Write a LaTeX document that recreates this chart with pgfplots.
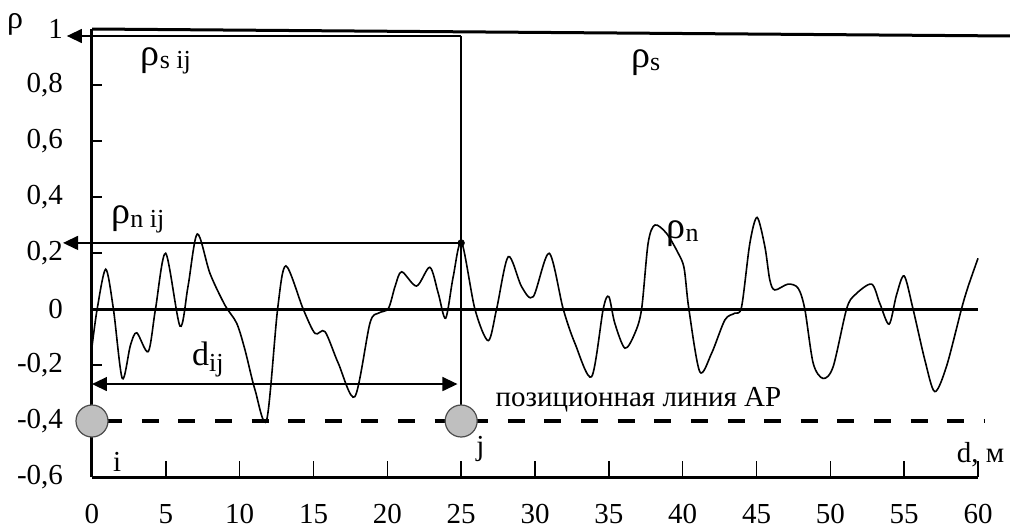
\documentclass[border=0pt]{standalone}
\usepackage{fontspec}
\setmainfont{Liberation Serif}
\usepackage{pgfplots}
\pgfplotsset{compat=1.18}
\usetikzlibrary{arrows.meta}

\newcommand{\rr}{{\fontsize{19}{20}\selectfont ρ}}
\newcommand{\sub}[1]{\raisebox{-0.35ex}{\fontsize{13}{14}\selectfont #1}}

\pgfplotstableread{
d v
0 -0.135
0.35 0.0
0.93 0.142
1.45 0.0
2.05 -0.248
2.6 -0.13
3.03 -0.085
3.81 -0.152
4.3 0.0
4.99 0.199
5.96 -0.061
6.5 0.08
7.13 0.268
7.99 0.127
9.0 0.014
9.8 -0.051
10.36 -0.146
11.04 -0.289
11.83 -0.396
12.57 0.0
13.13 0.154
14.3 0.0
15.1 -0.087
15.78 -0.081
16.68 -0.194
17.8 -0.313
18.82 -0.051
19.39 -0.015
20.07 0.002
20.52 0.08
20.97 0.133
21.98 0.082
22.88 0.149
23.45 0.056
23.95 -0.033
24.46 0.115
25.03 0.237
25.93 0.0
26.83 -0.113
27.4 0.0
28.19 0.187
29.09 0.08
29.88 0.044
30.96 0.199
31.91 0.0
32.7 -0.122
33.83 -0.242
34.62 0.0
35.0 0.044
35.4 -0.05
36.09 -0.14
36.76 -0.087
37.22 0.0
37.66 0.235
38.12 0.3
38.91 0.27
39.7 0.199
40.1 0.145
40.42 0.0
41.16 -0.224
41.96 -0.158
42.86 -0.039
43.53 -0.015
43.99 0.008
44.55 0.235
45.04 0.327
45.57 0.222
45.9 0.104
46.24 0.068
47.14 0.089
47.82 0.074
48.27 0.0
48.84 -0.194
49.51 -0.248
50.19 -0.206
51.1 0.0
51.66 0.05
52.79 0.089
53.35 0.02
53.98 -0.054
54.48 0.05
55.0 0.118
55.6 0.0
56.4 -0.182
57.07 -0.295
57.86 -0.206
58.88 0.0
59.33 0.08
60.0 0.181
}\rhon

\begin{document}
\begin{tikzpicture}
\begin{axis}[name=ax, scale only axis, width=443pt, height=224pt,
  xmin=0, xmax=60, ymin=-0.6, ymax=1,
  axis x line=bottom, axis y line=left,
  axis line style={draw=none},
  xtick={0,5,...,60},
  ytick={-0.6,-0.4,-0.2,0,0.2,0.4,0.6,0.8,1},
  tick align=inside, major tick length=8pt,
  ytick style={draw=none},
  xtick style={line width=0.8pt, black},
  tick label style={font=\fontsize{14.5}{17}\selectfont},
  /pgf/number format/assume math mode=true,
  /pgf/number format/use comma,
  xticklabel style={yshift=-10pt},
  yticklabel style={xshift=-11pt},
  clip=false,
  every axis plot/.append style={black},
]
% axes
\addplot[line width=1.5pt] coordinates {(0,-0.6) (60,-0.6)};
\addplot[line width=1.5pt] coordinates {(0,-0.6) (0,1)};
\pgfplotsinvokeforeach{-0.4,-0.2,0.2,0.4,0.6,0.8}{
  \draw[line width=0.8pt] (axis cs:0,#1) -- (axis cs:0.68,#1);
}
% zero line
\addplot[line width=1.5pt] coordinates {(0,0) (60,0)};
% rho_s
\addplot[line width=1.5pt] coordinates {(0,1) (62.2,0.975)};
% rho_n
\addplot[line width=0.8pt, smooth, tension=0.5] table[x=d, y=v] {\rhon};
% dashed positional line
\addplot[line width=2pt, dash pattern=on 8.5pt off 9.8pt] coordinates {(0.9,-0.4) (60.4,-0.4)};
% vertical line at j
\addplot[line width=0.7pt] coordinates {(25,0.975) (25,-0.4)};
% arrows
\addplot[line width=0.7pt, -{Triangle[length=7.5pt,width=7pt]}] coordinates {(25,0.975) (-1.7,0.975)};
\addplot[line width=0.7pt, -{Triangle[length=7.5pt,width=7pt]}] coordinates {(25,0.236) (-1.96,0.236)};
\addplot[line width=0.7pt, {Triangle[length=7.5pt,width=7pt]}-{Triangle[length=7.5pt,width=7pt]}] coordinates {(0,-0.268) (24.75,-0.268)};
\addplot[only marks, mark=*, mark size=1.6pt] coordinates {(25,0.236)};
% circles
\addplot[only marks, mark=*, mark size=8pt, mark options={fill=black!25, draw=black!70, line width=0.6pt}] coordinates {(0,-0.4) (25,-0.4)};
% labels
\node[font=\fontsize{16}{17}\selectfont] at (axis cs:-5.2,1.015) {ρ};
\node at (axis cs:5.0,0.885) {\rr\sub{s ij}};
\node at (axis cs:37.5,0.88) {\rr\sub{s}};
\node at (axis cs:3.1,0.32) {\rr\sub{n ij}};
\node at (axis cs:40.0,0.27) {\rr\sub{n}};
\node[font=\fontsize{17}{18}\selectfont] at (axis cs:7.85,-0.18) {d\sub{ij}};
\node[font=\fontsize{14.5}{17}\selectfont, anchor=west, inner sep=0pt] at (axis cs:27.3,-0.325) {позиционная линия АР};
\node[font=\fontsize{14.5}{17}\selectfont] at (axis cs:1.7,-0.545) {i};
\node[font=\fontsize{14.5}{17}\selectfont] at (axis cs:26.3,-0.5) {j};
\node[font=\fontsize{14.5}{17}\selectfont, anchor=east, inner sep=0pt] at (axis cs:61.8,-0.52) {d, м};
\end{axis}
\pgfresetboundingbox
\path[use as bounding box] ([shift={(-46pt,-27pt)}]ax.south west) rectangle ([shift={(459pt,238.5pt)}]ax.south west);
\end{tikzpicture}
\end{document}
